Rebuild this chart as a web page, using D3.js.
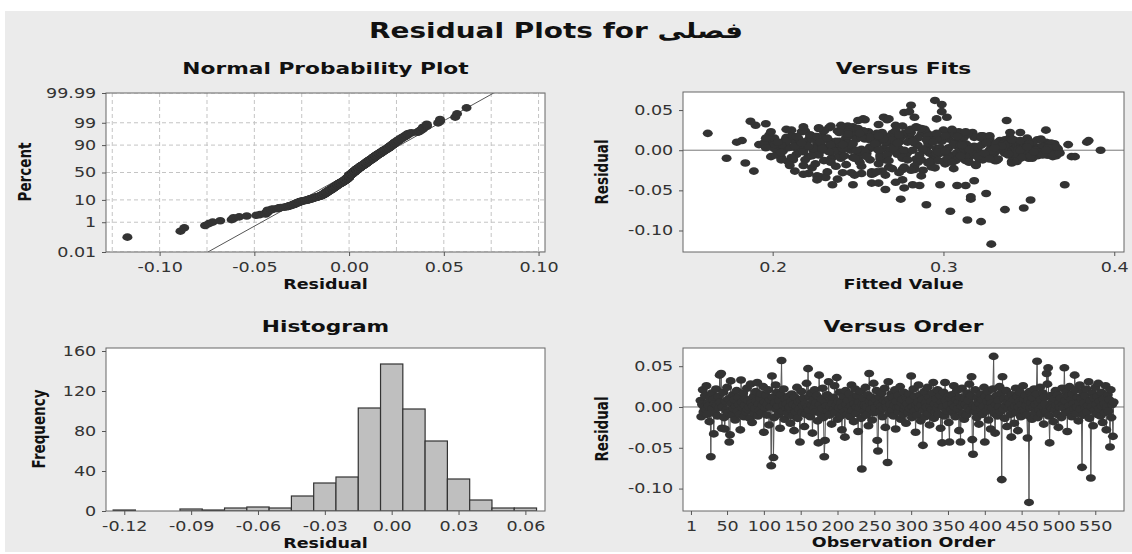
<!DOCTYPE html>
<html>
<head>
<meta charset="utf-8">
<script src="https://cdn.jsdelivr.net/npm/d3@7"></script>
<style>
  html, body { margin: 0; padding: 0; background: #fff; }
  svg { display: block; }
  text { font-family: "DejaVu Sans", Verdana, sans-serif; fill: #111; }
</style>
</head>
<body>
<svg id="chart" width="1132" height="554"></svg>
<script>
// ---- data ----
const firstObs = 14; // first plotted observation in "Versus Order"

// residuals in thousandths, in observation order (obs 14 .. 575)
const residualMilli = [
  8,-12,3,21,-6,0,14,-3,26,-9,5,1,-18,11,-61,17,-2,9,-33,4,
  -8,22,2,-11,13,-1,39,6,41,-26,0,18,-13,-27,7,-4,24,-7,10,-43,
  -34,32,4,-10,15,-2,9,-16,1,20,-5,12,3,-9,-28,33,6,-1,17,-12,
  2,10,-6,23,-3,8,0,-14,28,5,-19,1,13,-8,-2,19,7,30,-11,4,
  -4,11,16,-7,2,25,-31,6,-1,14,-10,3,21,-22,9,0,-72,38,12,-62,
  -13,5,27,-3,18,1,-9,8,-26,15,57,-5,2,22,-15,10,-1,4,-8,13,
  -2,0,-20,7,16,-11,3,-29,12,-6,1,24,-14,6,-3,-43,9,19,-7,2,
  11,-24,4,-9,29,0,47,-4,13,-12,17,2,-32,8,-1,21,-6,5,14,-17,
  -44,39,3,-8,10,-2,23,-13,-61,-41,6,1,15,-5,31,-10,0,9,-21,4,
  12,-3,26,-7,2,36,-15,7,-1,18,-11,5,-28,0,13,-6,-37,20,3,-9,
  8,-2,16,-12,1,27,-4,10,-18,4,22,-8,0,14,-30,6,-1,19,-14,-76,
  3,11,-6,2,24,-10,0,15,-23,41,7,-3,12,-16,5,29,-7,-1,9,20,
  -41,-54,4,13,-5,1,17,-12,-2,8,23,-25,6,0,-68,31,10,-8,3,16,
  -4,12,-11,2,21,-27,7,-1,14,-6,0,25,-15,5,9,-9,18,-3,1,-20,
  11,4,-7,16,-2,8,38,-13,0,22,-5,13,-31,3,-10,6,27,-1,15,-17,
  2,9,-47,-4,19,-12,5,0,24,-8,12,-22,1,7,-3,17,30,-14,4,-6,
  10,-1,21,-9,3,14,-26,6,-44,0,18,-11,30,8,-5,2,13,-19,-43,11,
  -3,15,4,-7,26,0,-12,9,20,-2,6,-29,12,-43,1,23,-8,5,-15,10,
  3,-10,17,-1,8,28,-4,14,37,-40,-58,2,-6,21,0,-13,11,6,-21,4,
  16,-2,9,-9,1,24,-43,13,-5,7,19,-16,0,11,-27,5,-1,22,62,-8,
  -32,3,14,-11,8,0,25,-6,17,-89,37,-3,10,-14,2,20,-24,6,-1,12,
  4,-9,-37,15,-2,9,-20,1,23,-7,13,-29,0,7,18,-12,3,-4,26,10,
  -5,14,2,-10,-38,8,-117,19,-1,5,-15,11,0,22,-7,3,16,56,-13,6,
  -3,24,9,-8,1,17,-21,12,4,-6,41,28,48,-11,-44,0,14,-2,7,-18,
  10,-4,20,2,-9,15,-25,5,0,11,-13,23,3,-1,48,8,-7,18,-30,13,
  1,25,-5,9,-12,16,4,-2,39,21,-8,0,12,-17,6,27,-3,10,-74,19,
  -10,5,14,-1,22,-6,2,31,-14,8,-87,0,17,-23,11,-4,24,3,-9,13,
  29,-2,7,-11,18,1,-19,10,4,-7,26,-28,0,15,-5,9,-49,21,-13,3,-36,6
];

// fitted values in thousandths, same order
const fitMilli = [
  345,212,298,162,361,327,254,352,281,205,318,366,243,309,275,225,337,268,228,356,
  199,290,341,263,221,348,253,314,283,189,359,246,330,258,192,302,219,364,274,247,
  231,262,340,173,201,357,226,184,349,271,214,333,362,248,241,196,307,354,280,323,
  344,179,305,217,368,260,336,209,233,291,218,358,270,375,347,198,373,244,284,363,
  255,343,208,329,296,211,266,351,224,303,240,360,277,223,338,392,347,254,182,351,
  313,203,227,346,259,318,235,365,213,299,299,250,334,264,285,384,342,206,310,355,
  272,350,252,197,312,234,328,221,282,361,245,230,300,216,339,235,267,293,352,204,
  324,276,238,349,247,366,277,292,210,257,327,353,226,273,317,249,202,345,261,301,
  286,296,335,377,306,362,256,331,316,258,242,288,215,356,190,276,320,195,268,348,
  385,308,208,340,274,187,251,359,216,323,294,243,274,337,200,263,226,287,351,315,
  270,225,339,205,358,250,298,244,319,212,281,364,236,327,258,344,290,222,301,304,
  330,213,278,367,238,311,246,349,270,302,204,326,260,291,353,218,239,342,283,307,
  262,325,216,341,296,252,229,266,357,313,199,288,245,334,290,240,360,221,303,275,
  347,233,321,265,304,232,351,206,274,338,297,280,315,228,363,247,211,330,256,283,
  299,220,355,243,312,261,267,230,346,317,273,336,248,209,350,285,241,365,196,262,
  318,244,277,360,291,219,343,269,253,303,207,295,356,235,329,222,276,340,257,314,
  352,240,270,328,214,297,264,361,313,289,327,250,234,306,344,201,268,319,371,237,
  279,339,231,366,245,310,287,203,255,349,322,259,293,282,217,309,263,358,234,326,
  271,345,266,311,239,285,354,223,337,272,316,298,227,261,367,307,342,246,293,210,
  318,254,331,212,288,230,298,257,364,306,222,340,277,208,261,350,236,345,295,323,
  287,363,249,302,335,229,300,267,226,322,250,353,279,343,241,314,283,205,330,260,
  347,276,276,322,218,291,237,357,244,310,270,252,339,201,301,331,259,368,289,228,
  318,296,224,352,318,247,328,264,337,213,305,348,282,339,242,362,257,281,294,336,
  205,272,325,255,344,308,277,216,359,286,265,227,280,332,308,249,357,297,234,319,
  266,336,244,312,346,285,281,221,354,239,268,313,196,328,299,260,351,322,218,290,
  302,360,341,217,279,252,366,233,268,296,320,262,345,225,310,287,356,203,336,274,
  248,334,265,301,239,358,229,272,292,350,314,345,214,306,282,324,253,361,211,340,
  284,353,241,327,262,315,210,294,349,223,305,246,360,232,338,273,266,251,297,330,238,311
];

// histogram (bin width 0.01)
const histCenters = [-0.12,-0.11,-0.10,-0.09,-0.08,-0.07,-0.06,-0.05,-0.04,-0.03,-0.02,-0.01,0.00,0.01,0.02,0.03,0.04,0.05,0.06];
const histCounts  = [1,0,0,2,1,3,4,3,15,28,34,103,147,102,70,32,11,3,3];

// tick values
const probTicks = [0.01, 1, 10, 50, 90, 99, 99.99];
const probTickLabels = ["0.01", "1", "10", "50", "90", "99", "99.99"];
const probXTicks = [-0.10, -0.05, 0.00, 0.05, 0.10];
const probGridX = [-0.125, -0.10, -0.075, -0.05, -0.025, 0, 0.025, 0.05, 0.075, 0.10];
const residTicks = [0.05, 0.00, -0.05, -0.10];
const fitTicks = [0.2, 0.3, 0.4];
const histXTicks = [-0.12, -0.09, -0.06, -0.03, 0.00, 0.03, 0.06];
const histYTicks = [0, 40, 80, 120, 160];
const orderTicks = [1, 50, 100, 150, 200, 250, 300, 350, 400, 450, 500, 550];

// ---- setup ----
const SX = 1.3; // the picture is stretched sideways, so text is drawn stretched too
const svg = d3.select("#chart");
svg.append("rect").attr("x", 5).attr("y", 11).attr("width", 1127).attr("height", 541).attr("fill", "#ebebeb");

const residuals = residualMilli.map(v => v / 1000);
const fits = fitMilli.map(v => v / 1000);
const points = residuals.map((r, i) => ({ obs: firstObs + i, r: r, f: fits[i] }));

const dotRx = 5, dotRy = 3.8, dotColor = "#333";
const tickSize = 13.5;

function label(x, y, str, size, rotate) {
  return svg.append("text")
    .attr("transform", `translate(${x},${y}) scale(${SX},1)` + (rotate ? " rotate(-90)" : ""))
    .attr("text-anchor", "middle")
    .style("font-size", size + "px")
    .style("font-weight", "bold")
    .text(str);
}

function styleAxis(g) {
  g.attr("font-family", null).attr("font-size", null);
  g.select(".domain").remove();
  g.selectAll(".tick line").attr("stroke", "#555");
  g.selectAll(".tick text")
    .style("font-size", tickSize + "px")
    .style("fill", "#333")
    .attr("transform", `scale(${SX},1)`);
}

function panel(id, b) {
  svg.append("clipPath").attr("id", id).append("rect")
    .attr("x", b.x0).attr("y", b.y0).attr("width", b.x1 - b.x0).attr("height", b.y1 - b.y0);
  svg.append("rect")
    .attr("x", b.x0).attr("y", b.y0).attr("width", b.x1 - b.x0).attr("height", b.y1 - b.y0)
    .attr("fill", "#fff");
  return svg.append("g").attr("clip-path", `url(#${id})`);
}

function frame(b) {
  svg.append("rect")
    .attr("x", b.x0).attr("y", b.y0).attr("width", b.x1 - b.x0).attr("height", b.y1 - b.y0)
    .attr("fill", "none").attr("stroke", "#666").attr("stroke-width", 1);
}

// inverse normal cdf (Acklam)
function normInv(p) {
  const a = [-39.69683028665376, 220.9460984245205, -275.9285104469687, 138.3577518672690, -30.66479806614716, 2.506628277459239];
  const b = [-54.47609879822406, 161.5858368580409, -155.6989798598866, 66.80131188771972, -13.28068155288572];
  const c = [-0.007784894002430293, -0.3223964580411365, -2.400758277161838, -2.549671010115167, 4.374664141464968, 2.938163982698783];
  const d = [0.007784695709041462, 0.3224671290700398, 2.445134137142996, 3.754408661907416];
  const lo = 0.02425;
  if (p < lo) {
    const q = Math.sqrt(-2 * Math.log(p));
    return (((((c[0]*q+c[1])*q+c[2])*q+c[3])*q+c[4])*q+c[5]) / ((((d[0]*q+d[1])*q+d[2])*q+d[3])*q+1);
  }
  if (p > 1 - lo) {
    const q = Math.sqrt(-2 * Math.log(1 - p));
    return -(((((c[0]*q+c[1])*q+c[2])*q+c[3])*q+c[4])*q+c[5]) / ((((d[0]*q+d[1])*q+d[2])*q+d[3])*q+1);
  }
  const q = p - 0.5, r = q * q;
  return (((((a[0]*r+a[1])*r+a[2])*r+a[3])*r+a[4])*r+a[5])*q / (((((b[0]*r+b[1])*r+b[2])*r+b[3])*r+b[4])*r+1);
}

// main title
label(556, 38, "Residual Plots for فصلی", 21.5);

// ---- Normal probability plot ----
const bP = { x0: 106, x1: 545, y0: 93, y1: 252 };
const xP = d3.scaleLinear().domain([-0.1283, 0.1034]).range([bP.x0, bP.x1]);
const yP = d3.scaleLinear().domain([normInv(0.0001), normInv(0.9999)]).range([bP.y1, bP.y0]);
const gP = panel("clipP", bP);

gP.selectAll(".gx").data(probGridX).join("line")
  .attr("x1", d => xP(d)).attr("x2", d => xP(d)).attr("y1", bP.y0).attr("y2", bP.y1)
  .attr("stroke", "#c4c4c4").attr("stroke-dasharray", "4,3");
gP.selectAll(".gy").data(probTicks).join("line")
  .attr("x1", bP.x0).attr("x2", bP.x1)
  .attr("y1", d => yP(normInv(d / 100))).attr("y2", d => yP(normInv(d / 100)))
  .attr("stroke", "#c4c4c4").attr("stroke-dasharray", "4,3");

const sorted = residuals.slice().sort(d3.ascending);
const n = sorted.length;
const mu = d3.mean(residuals), sd = d3.deviation(residuals);
const zLo = normInv(0.0001), zHi = normInv(0.9999);
gP.append("line")
  .attr("x1", xP(mu + sd * zLo)).attr("y1", yP(zLo))
  .attr("x2", xP(mu + sd * zHi)).attr("y2", yP(zHi))
  .attr("stroke", "#555").attr("stroke-width", 1);
gP.selectAll(".pp").data(sorted).join("ellipse")
  .attr("cx", d => xP(d))
  .attr("cy", (d, i) => yP(normInv((i + 1 - 0.3) / (n + 0.4))))
  .attr("rx", dotRx).attr("ry", dotRy).attr("fill", dotColor);
frame(bP);

styleAxis(svg.append("g").attr("transform", `translate(0,${bP.y1})`)
  .call(d3.axisBottom(xP).tickValues(probXTicks).tickSize(4).tickPadding(6).tickFormat(d => d.toFixed(2))));
styleAxis(svg.append("g").attr("transform", `translate(${bP.x0},0)`)
  .call(d3.axisLeft(d3.scaleLinear().domain(yP.domain()).range(yP.range()))
    .tickValues(probTicks.map(p => normInv(p / 100))).tickSize(4).tickPadding(3.5)
    .tickFormat((d, i) => probTickLabels[i])));

label(325.5, 74, "Normal Probability Plot", 16.7);
label(325.5, 289, "Residual", 13.5);
label(31, 172, "Percent", 13.5, true);

// ---- Versus fits ----
const bF = { x0: 683, x1: 1124, y0: 92, y1: 252 };
const xF = d3.scaleLinear().domain([0.1475, 0.4057]).range([bF.x0, bF.x1]);
const yF = d3.scaleLinear().domain([-0.1268, 0.0725]).range([bF.y1, bF.y0]);
const gF = panel("clipF", bF);
gF.append("line").attr("x1", bF.x0).attr("x2", bF.x1).attr("y1", yF(0)).attr("y2", yF(0))
  .attr("stroke", "#777").attr("stroke-width", 1);
gF.selectAll(".fp").data(points).join("ellipse")
  .attr("cx", d => xF(d.f)).attr("cy", d => yF(d.r))
  .attr("rx", dotRx).attr("ry", dotRy).attr("fill", dotColor);
frame(bF);
styleAxis(svg.append("g").attr("transform", `translate(0,${bF.y1})`)
  .call(d3.axisBottom(xF).tickValues(fitTicks).tickSize(4).tickPadding(6).tickFormat(d => d.toFixed(1))));
styleAxis(svg.append("g").attr("transform", `translate(${bF.x0},0)`)
  .call(d3.axisLeft(yF).tickValues(residTicks).tickSize(4).tickPadding(3.5).tickFormat(d => d.toFixed(2))));
label(903.5, 74, "Versus Fits", 16.7);
label(903.5, 289, "Fitted Value", 13.5);
label(608, 172, "Residual", 13.5, true);

// ---- Histogram ----
const bH = { x0: 106, x1: 545, y0: 348, y1: 511 };
const xH = d3.scaleLinear().domain([-0.1282, 0.0688]).range([bH.x0, bH.x1]);
const yH = d3.scaleLinear().domain([0, 163]).range([bH.y1, bH.y0]);
const gH = panel("clipH", bH);
gH.selectAll(".bar").data(histCenters).join("rect")
  .attr("x", d => xH(d - 0.005))
  .attr("width", d => xH(d + 0.005) - xH(d - 0.005))
  .attr("y", (d, i) => yH(histCounts[i]))
  .attr("height", (d, i) => yH(0) - yH(histCounts[i]))
  .attr("fill", "#bfbfbf").attr("stroke", "#333").attr("stroke-width", 1.2)
  .attr("display", (d, i) => histCounts[i] > 0 ? null : "none");
frame(bH);
styleAxis(svg.append("g").attr("transform", `translate(0,${bH.y1})`)
  .call(d3.axisBottom(xH).tickValues(histXTicks).tickSize(4).tickPadding(6).tickFormat(d => d.toFixed(2))));
styleAxis(svg.append("g").attr("transform", `translate(${bH.x0},0)`)
  .call(d3.axisLeft(yH).tickValues(histYTicks).tickSize(4).tickPadding(3.5)));
label(325.5, 332, "Histogram", 16.7);
label(325.5, 548, "Residual", 13.5);
label(45, 429, "Frequency", 13.5, true);

// ---- Versus order ----
const bO = { x0: 683, x1: 1124, y0: 348, y1: 511 };
const xO = d3.scaleLinear().domain([-9.8, 589]).range([bO.x0, bO.x1]);
const yO = d3.scaleLinear().domain([-0.1275, 0.0723]).range([bO.y1, bO.y0]);
const gO = panel("clipO", bO);
gO.append("line").attr("x1", bO.x0).attr("x2", bO.x1).attr("y1", yO(0)).attr("y2", yO(0))
  .attr("stroke", "#777").attr("stroke-width", 1);
gO.append("path")
  .attr("d", d3.line().x(d => xO(d.obs)).y(d => yO(d.r))(points))
  .attr("fill", "none").attr("stroke", "#555").attr("stroke-width", 1);
gO.selectAll(".op").data(points).join("ellipse")
  .attr("cx", d => xO(d.obs)).attr("cy", d => yO(d.r))
  .attr("rx", dotRx).attr("ry", dotRy).attr("fill", dotColor);
frame(bO);
styleAxis(svg.append("g").attr("transform", `translate(0,${bO.y1})`)
  .call(d3.axisBottom(xO).tickValues(orderTicks).tickSize(4).tickPadding(6)));
styleAxis(svg.append("g").attr("transform", `translate(${bO.x0},0)`)
  .call(d3.axisLeft(yO).tickValues(residTicks).tickSize(4).tickPadding(3.5).tickFormat(d => d.toFixed(2))));
label(903.5, 332, "Versus Order", 16.7);
label(903.5, 547, "Observation Order", 13.5);
label(608, 429, "Residual", 13.5, true);
</script>
</body>
</html>
